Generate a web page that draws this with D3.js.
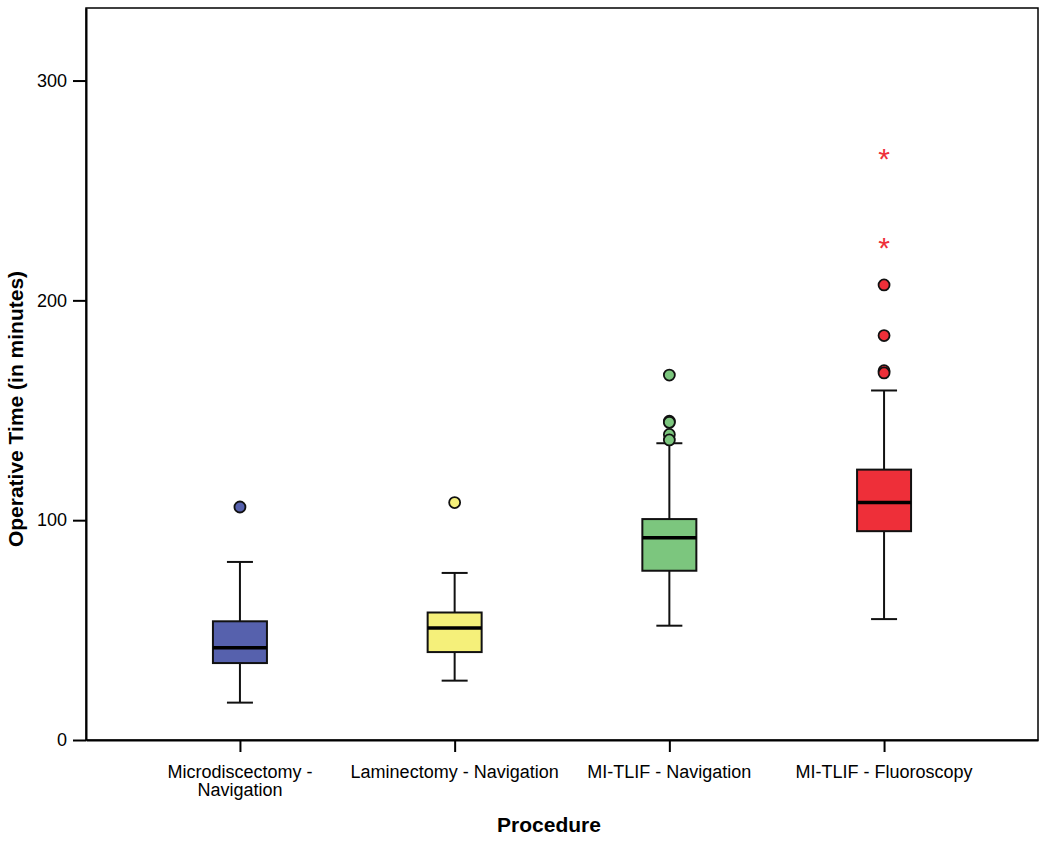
<!DOCTYPE html>
<html>
<head>
<meta charset="utf-8">
<script src="https://cdn.jsdelivr.net/npm/d3@7"></script>
<style>
  html, body { margin: 0; padding: 0; background: #fff; }
  svg { display: block; font-family: "Liberation Sans", Arial, Helvetica, sans-serif; }
</style>
</head>
<body>
<svg id="chart" width="1050" height="841"></svg>
<script>
// ---- data ----
const categories = ["Microdiscectomy - Navigation", "Laminectomy - Navigation", "MI-TLIF - Navigation", "MI-TLIF - Fluoroscopy"];
const labelLines = [["Microdiscectomy -", "Navigation"], ["Laminectomy - Navigation"], ["MI-TLIF - Navigation"], ["MI-TLIF - Fluoroscopy"]];
const colors = ["#5661ad", "#f5f07a", "#7cc67e", "#ee2f39"];
const whiskerLow = [17, 27, 52, 55];
const q1 = [35, 40, 77, 95];
const median = [42, 51, 92, 108];
const q3 = [54, 58, 100.5, 123];
const whiskerHigh = [81, 76, 135, 159];
const outliers = [[106], [108], [166, 145, 144.5, 139, 136.5], [207, 184, 168, 167]];
const extremes = [[], [], [], [265.5, 225]];
const yTicks = [0, 100, 200, 300];
const yMax = 333;

// ---- layout ----
const svg = d3.select("#chart");
const mLeft = 86, mRight = 1038, mTop = 8, mBottom = 740;

const x = d3.scalePoint().domain(categories).range([mLeft, mRight]).padding(0.717);
const y = d3.scaleLinear().domain([0, yMax]).range([mBottom, mTop]);

// frame
svg.append("rect").attr("x", mLeft).attr("y", mTop).attr("width", mRight - mLeft).attr("height", mBottom - mTop)
  .attr("fill", "none").attr("stroke", "#000").attr("stroke-width", 1.5);

// y axis
const yAxis = svg.append("g").attr("transform", `translate(${mLeft},0)`)
  .call(d3.axisLeft(y).tickValues(yTicks).tickSizeInner(13).tickSizeOuter(0).tickPadding(6).tickFormat(d3.format("d")));
yAxis.select(".domain").attr("stroke-width", 2);
yAxis.selectAll(".tick line").attr("stroke-width", 2);
yAxis.selectAll("text").attr("font-size", 18).attr("fill", "#000").attr("font-family", "Liberation Sans, Arial, sans-serif");

// x axis
const xAxis = svg.append("g").attr("transform", `translate(0,${mBottom})`)
  .call(d3.axisBottom(x).tickSizeInner(12).tickSizeOuter(0).tickFormat(""));
xAxis.select(".domain").attr("stroke-width", 2);
xAxis.selectAll(".tick line").attr("stroke-width", 2);

// x tick labels (multi-line)
categories.forEach((c, i) => {
  const t = svg.append("text").attr("x", x(c)).attr("y", mBottom + 38)
    .attr("text-anchor", "middle").attr("font-size", 18).attr("fill", "#000");
  labelLines[i].forEach((ln, j) => {
    t.append("tspan").attr("x", x(c)).attr("dy", j === 0 ? 0 : 18).text(ln);
  });
});

// axis titles
svg.append("text").attr("x", 549).attr("y", 832).attr("text-anchor", "middle")
  .attr("font-size", 21).attr("font-weight", "bold").text("Procedure");
svg.append("text").attr("transform", `translate(23,409) rotate(-90)`)
  .attr("text-anchor", "middle").attr("font-size", 21).attr("font-weight", "bold")
  .text("Operative Time (in minutes)");

// boxes
const boxW = 54, capW = 26;
categories.forEach((c, i) => {
  const cx = x(c);
  const g = svg.append("g");
  g.append("line").attr("x1", cx).attr("x2", cx).attr("y1", y(whiskerLow[i])).attr("y2", y(q1[i]))
    .attr("stroke", "#111").attr("stroke-width", 2);
  g.append("line").attr("x1", cx).attr("x2", cx).attr("y1", y(q3[i])).attr("y2", y(whiskerHigh[i]))
    .attr("stroke", "#111").attr("stroke-width", 2);
  [whiskerLow[i], whiskerHigh[i]].forEach(v => {
    g.append("line").attr("x1", cx - capW / 2).attr("x2", cx + capW / 2).attr("y1", y(v)).attr("y2", y(v))
      .attr("stroke", "#111").attr("stroke-width", 2);
  });
  g.append("rect").attr("x", cx - boxW / 2).attr("y", y(q3[i])).attr("width", boxW)
    .attr("height", y(q1[i]) - y(q3[i])).attr("fill", colors[i]).attr("stroke", "#111").attr("stroke-width", 2);
  g.append("line").attr("x1", cx - boxW / 2).attr("x2", cx + boxW / 2).attr("y1", y(median[i])).attr("y2", y(median[i]))
    .attr("stroke", "#000").attr("stroke-width", 3.5);
  outliers[i].forEach(v => {
    g.append("circle").attr("cx", cx).attr("cy", y(v)).attr("r", 5.5)
      .attr("fill", colors[i]).attr("stroke", "#111").attr("stroke-width", 1.8);
  });
  extremes[i].forEach(v => {
    g.append("text").attr("x", cx).attr("y", y(v) + 13).attr("text-anchor", "middle")
      .attr("font-size", 30).attr("fill", colors[i]).text("*");
  });
});
</script>
</body>
</html>
